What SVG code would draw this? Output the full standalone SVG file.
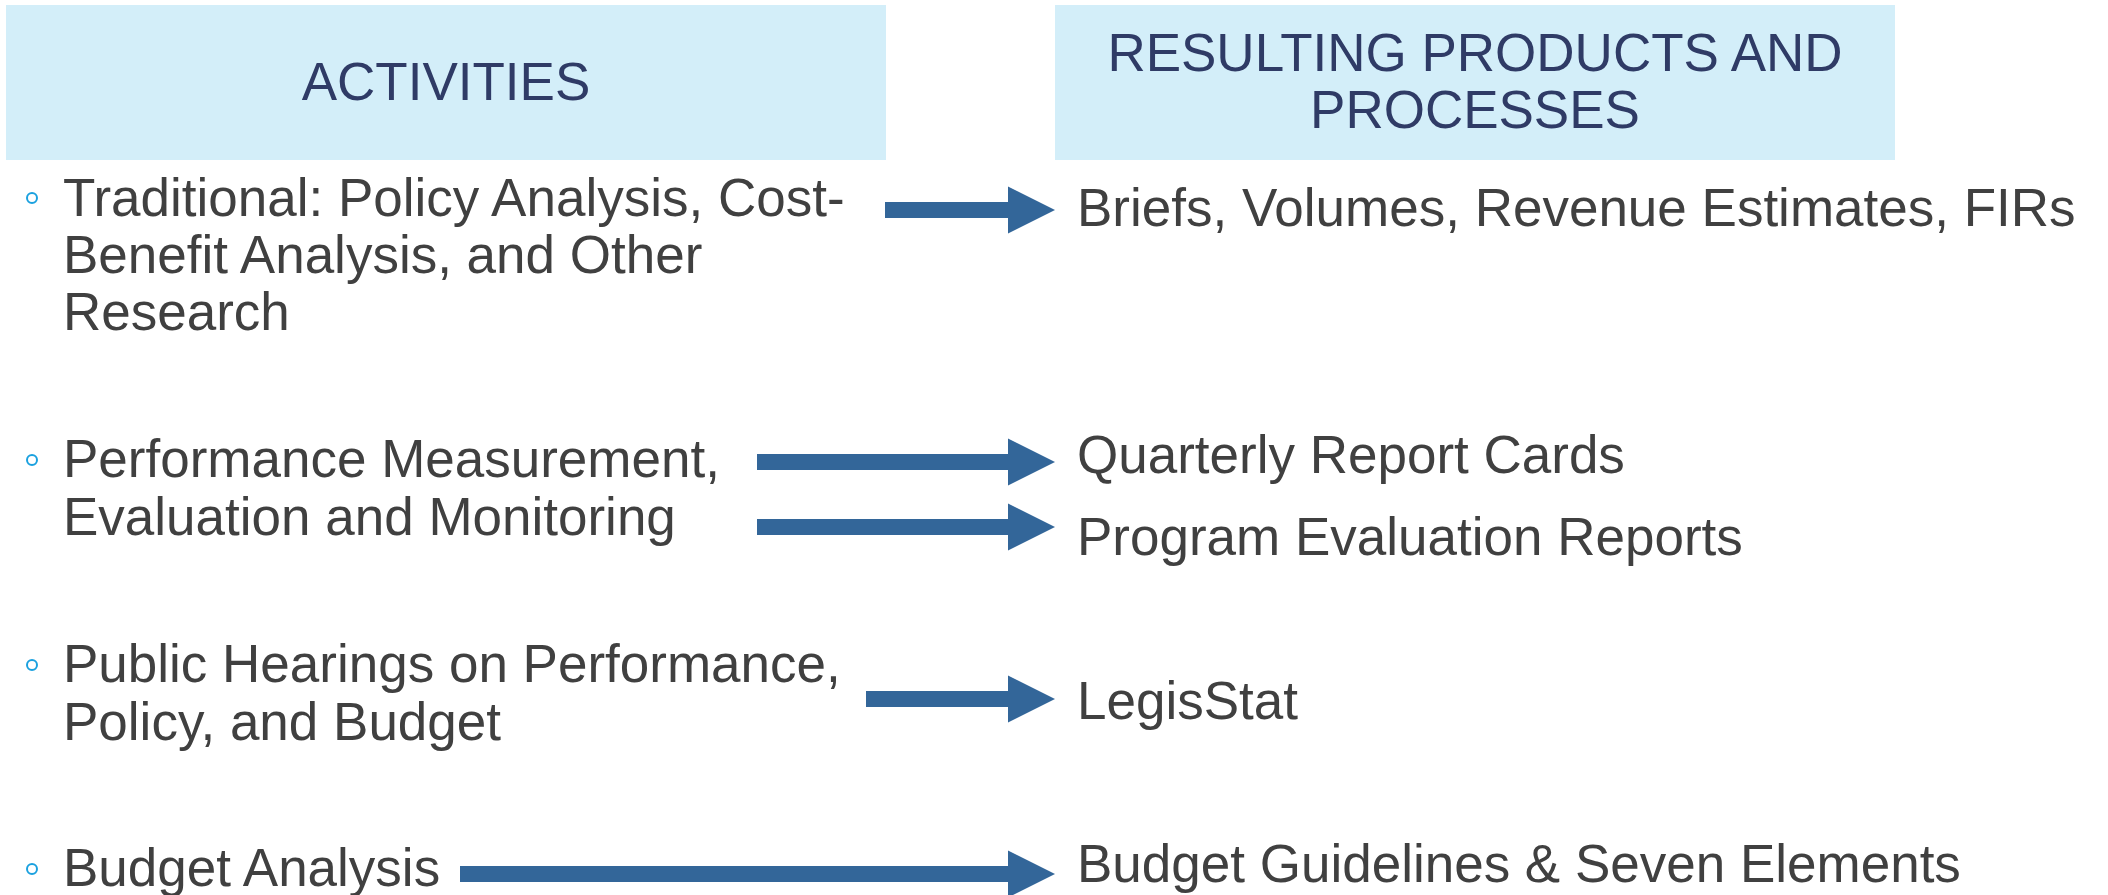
<svg xmlns="http://www.w3.org/2000/svg" width="2108" height="895" viewBox="0 0 2108 895">
<style>
.hdr{fill:#D3EEF9;}
.ht{font-family:"Liberation Sans",Arial,sans-serif;font-size:53px;fill:#2F3B66;text-anchor:middle;}
.bt{font-family:"Liberation Sans",Arial,sans-serif;font-size:53px;fill:#404040;}
.bul{fill:none;stroke:#1BA1DF;stroke-width:2;}
.arr{fill:#336699;}
</style>
<rect width="2108" height="895" fill="#FFFFFF"/>
<g id="header-activities">
<rect class="hdr" x="6" y="5" width="880" height="155"/>
<text class="ht" x="446" y="100">ACTIVITIES</text>
</g>
<g id="header-products">
<rect class="hdr" x="1055" y="5" width="840" height="155"/>
<text class="ht" x="1475" y="71">RESULTING PRODUCTS AND</text>
<text class="ht" x="1475" y="128">PROCESSES</text>
</g>
<g id="activity-traditional">
<circle class="bul" cx="32" cy="198" r="5"/>
<text class="bt" x="63" y="216">Traditional: Policy Analysis, Cost-</text>
<text class="bt" x="63" y="273">Benefit Analysis, and Other</text>
<text class="bt" x="63" y="330">Research</text>
</g>
<g id="activity-performance">
<circle class="bul" cx="32" cy="460" r="5"/>
<text class="bt" x="63" y="477">Performance Measurement,</text>
<text class="bt" x="63" y="535">Evaluation and Monitoring</text>
</g>
<g id="activity-hearings">
<circle class="bul" cx="32" cy="665" r="5"/>
<text class="bt" x="63" y="682">Public Hearings on Performance,</text>
<text class="bt" x="63" y="740">Policy, and Budget</text>
</g>
<g id="activity-budget">
<circle class="bul" cx="32" cy="869" r="5"/>
<text class="bt" x="63" y="886">Budget Analysis</text>
</g>
<g id="product-briefs">
<text class="bt" x="1077" y="226">Briefs, Volumes, Revenue Estimates, FIRs</text>
</g>
<g id="product-quarterly">
<text class="bt" x="1077" y="473">Quarterly Report Cards</text>
</g>
<g id="product-program">
<text class="bt" x="1077" y="555">Program Evaluation Reports</text>
</g>
<g id="product-legisstat">
<text class="bt" x="1077" y="719">LegisStat</text>
</g>
<g id="product-budget">
<text class="bt" x="1077" y="882">Budget Guidelines &amp; Seven Elements</text>
</g>
<g id="connectors">
<polygon class="arr" points="885,202 1008,202 1008,186.5 1055,210 1008,233.5 1008,218 885,218"/>
<polygon class="arr" points="757,454 1008,454 1008,438.5 1055,462 1008,485.5 1008,470 757,470"/>
<polygon class="arr" points="757,519 1008,519 1008,503.5 1055,527 1008,550.5 1008,535 757,535"/>
<polygon class="arr" points="866,691 1008,691 1008,675.5 1055,699 1008,722.5 1008,707 866,707"/>
<polygon class="arr" points="460,866 1008,866 1008,850.5 1055,874 1008,897.5 1008,882 460,882"/>
</g>
</svg>
